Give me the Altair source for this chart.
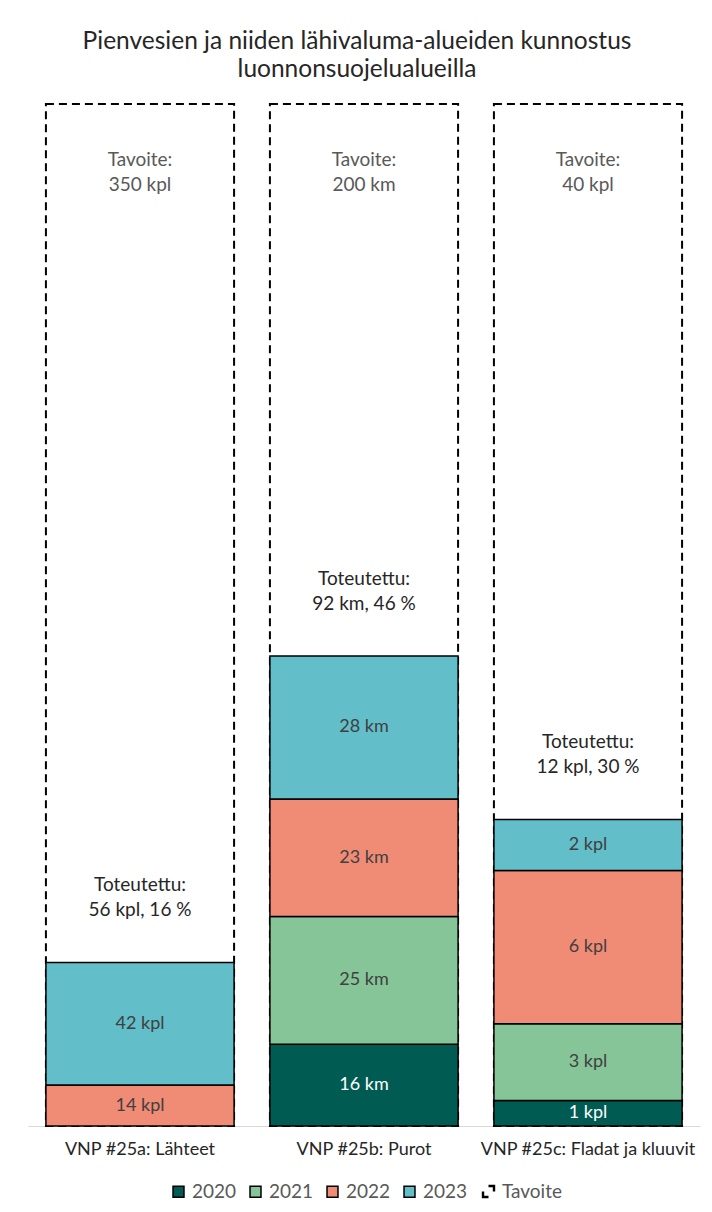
import altair as alt
import pandas as pd

categories = ["VNP #25a: Lähteet", "VNP #25b: Purot", "VNP #25c: Fladat ja kluuvit"]
targets = [350, 200, 40]
units = ["kpl", "km", "kpl"]
years = ["2020", "2021", "2022", "2023"]
values_25a = [0, 0, 14, 42]
values_25b = [16, 25, 23, 28]
values_25c = [1, 3, 6, 2]
year_colors = ["#005B52", "#86C597", "#F08C76", "#62BEC9"]

FONT = "Lato"

rows = []
tot_rows = []
for cat, tgt, unit, vals in zip(categories, targets, units, [values_25a, values_25b, values_25c]):
    cum = 0
    for yr, v in zip(years, vals):
        if v > 0:
            rows.append(dict(cat=cat, year=yr, value=v, y0=cum / tgt, y1=(cum + v) / tgt,
                             mid=(cum + v / 2) / tgt, label=f"{v} {unit}"))
        cum += v
    tot_rows.append(dict(cat=cat, one=1.0, zero=0.0, frac=cum / tgt, kind="Tavoite",
                         tav=f"Tavoite:\n{tgt} {unit}",
                         tot=f"Toteutettu:\n{cum} {unit}, {round(100 * cum / tgt)} %"))
seg = pd.DataFrame(rows)
tot = pd.DataFrame(tot_rows)

x_enc = alt.X("cat:N", sort=categories, title=None,
              scale=alt.Scale(paddingInner=0.16, paddingOuter=0.08),
              axis=alt.Axis(labelAngle=0, ticks=False, domainColor="#D9D9D9", domainWidth=1.2,
                            labelFontSize=18, labelColor="#262626", labelFont=FONT, labelPadding=14,
                            labelLimit=400))
y_scale = alt.Scale(domain=[0, 1])

target_box = alt.Chart(tot).mark_bar(fill="white", stroke="black", strokeWidth=2,
                                     strokeDash=[8, 5]).encode(
    x=x_enc,
    y=alt.Y("one:Q", scale=y_scale, axis=None),
    y2="zero:Q",
)

# invisible points that only carry the "Tavoite" legend entry
target_key = alt.Chart(tot).mark_point(filled=False, opacity=0, color="black").encode(
    x=x_enc,
    y=alt.Y("one:Q", scale=y_scale, axis=None),
    shape=alt.Shape("kind:N", scale=alt.Scale(domain=["Tavoite"], range=["square"]),
                    legend=alt.Legend(title=None, orient="none", legendX=451, legendY=1078,
                                      symbolStrokeColor="black", symbolFillColor="white",
                                      symbolStrokeWidth=2.4, symbolDash=[11, 11], symbolDashOffset=16.5,
                                      symbolSize=121, symbolOpacity=1,
                                      labelFontSize=19, labelFont=FONT, labelColor="#595959",
                                      labelOffset=4)),
)

bars = alt.Chart(seg).mark_bar(stroke="black", strokeWidth=1.5).encode(
    x=x_enc,
    y=alt.Y("y1:Q", scale=y_scale, axis=None),
    y2="y0:Q",
    color=alt.Color("year:N", scale=alt.Scale(domain=years, range=year_colors),
                    legend=alt.Legend(title=None, orient="none", legendX=141, legendY=1078,
                                      direction="horizontal",
                                      symbolType="square", symbolStrokeColor="black",
                                      symbolStrokeWidth=1.5, symbolSize=120, symbolOpacity=1,
                                      labelFontSize=19, labelFont=FONT, labelColor="#595959",
                                      labelOffset=4, columnPadding=9)),
)

seg_text = alt.Chart(seg).mark_text(fontSize=18, font=FONT).encode(
    x=x_enc,
    y=alt.Y("mid:Q", scale=y_scale, axis=None),
    text="label:N",
    color=alt.condition(alt.datum.year == "2020", alt.value("white"), alt.value("#404040")),
)

tav_text = alt.Chart(tot).mark_text(fontSize=19, font=FONT, color="#595959", lineBreak="\n",
                                    lineHeight=25, baseline="middle", dy=56).encode(
    x=x_enc,
    y=alt.Y("one:Q", scale=y_scale, axis=None),
    text="tav:N",
)

tot_text = alt.Chart(tot).mark_text(fontSize=19, font=FONT, color="#262626", lineBreak="\n",
                                    lineHeight=25, baseline="middle", dy=-77).encode(
    x=x_enc,
    y=alt.Y("frac:Q", scale=y_scale, axis=None),
    text="tot:N",
)

chart = alt.layer(target_box, target_key, bars, seg_text, tav_text, tot_text).properties(
    width=672, height=1022,
    padding={"left": 28, "top": 104, "right": 12, "bottom": 86},
    autosize=alt.AutoSizeParams(type="none"),
    title=alt.Title(["Pienvesien ja niiden lähivaluma-alueiden kunnostus", "luonnonsuojelualueilla"],
                    fontSize=24.5, font=FONT, fontWeight="normal", color="#262626",
                    lineHeight=28, anchor="middle", baseline="bottom", offset=19, dx=-7, dy=24),
).resolve_legend(color="independent", shape="independent").configure(
    background="white"
).configure_view(strokeWidth=0)

chart.save("out.html", embed_options={"renderer": "svg", "actions": False})
